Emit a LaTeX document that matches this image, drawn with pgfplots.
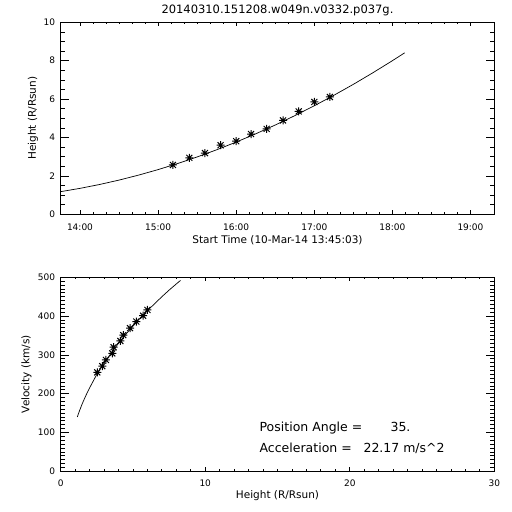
\documentclass[border=0pt]{standalone}
\usepackage{pgfplots}
\pgfplotsset{compat=1.18}
\usepackage{fontspec}
\setmainfont{DejaVu Sans}
\pgfdeclareplotmark{idlstar}{%
  \pgfpathmoveto{\pgfqpoint{-\pgfplotmarksize}{0pt}}\pgfpathlineto{\pgfqpoint{\pgfplotmarksize}{0pt}}%
  \pgfpathmoveto{\pgfqpoint{0pt}{-\pgfplotmarksize}}\pgfpathlineto{\pgfqpoint{0pt}{\pgfplotmarksize}}%
  \pgfpathmoveto{\pgfqpoint{-0.75\pgfplotmarksize}{-0.75\pgfplotmarksize}}\pgfpathlineto{\pgfqpoint{0.75\pgfplotmarksize}{0.75\pgfplotmarksize}}%
  \pgfpathmoveto{\pgfqpoint{-0.75\pgfplotmarksize}{0.75\pgfplotmarksize}}\pgfpathlineto{\pgfqpoint{0.75\pgfplotmarksize}{-0.75\pgfplotmarksize}}%
  \pgfusepathqstroke}
\pgfplotsset{idl/.style={
  scale only axis,
  axis line style={line width=0.9pt},
  tick style={line width=0.8pt, black},
  major tick length=8pt, minor tick length=4pt,
  xtick style={/pgfplots/major tick length=4pt, /pgfplots/minor tick length=2pt},
  tick align=inside,
  /pgf/number format/assume math mode=true,
  tick label style={font=\fontsize{9}{10}\selectfont},
  yticklabel style={xshift=-2pt},
  label style={font=\fontsize{10.5}{12}\selectfont},
}}
\begin{document}
\begin{tikzpicture}
\begin{axis}[idl,
  at={(60.7pt,-214.3pt)}, anchor=south west,
  width=433.6pt, height=192pt,
  xmin=13.753, xmax=19.305, ymin=0, ymax=10,
  xtick={14,15,16,17,18,19},
  xticklabels={14:00,15:00,16:00,17:00,18:00,19:00},
  minor x tick num=5,
  ytick={0,2,4,6,8,10}, minor y tick num=3,
  xticklabel style={yshift=-6pt},
  title={20140310.151208.w049n.v0332.p037g.},
  every axis title/.style={at={(axis description cs:0.5,1.0625)}, anchor=center, font=\fontsize{11.5}{13}\selectfont},
  xlabel={Start Time (10-Mar-14 13:45:03)},
  xlabel style={at={(axis description cs:0.5,-0.1365)}, anchor=center},
  ylabel={Height (R/Rsun)},
  ylabel style={at={(axis description cs:-0.0639,0.5)}, anchor=center},
]
\addplot[black, line width=0.7pt, no marks] coordinates {
(13.753,1.18) (14.0,1.351) (14.25,1.552) (14.5,1.782) (14.75,2.041)
(15.0,2.328) (15.25,2.643) (15.5,2.988) (15.75,3.360) (16.0,3.762)
(16.25,4.192) (16.5,4.650) (16.75,5.137) (17.0,5.653) (17.25,6.197)
(17.5,6.769) (17.75,7.371) (18.0,8.000) (18.157,8.41)};
\addplot[black, only marks, mark=idlstar, mark size=4pt, mark options={line width=1pt}] coordinates {
(15.19,2.57) (15.40,2.94) (15.60,3.19) (15.80,3.60) (16.00,3.81) (16.19,4.18)
(16.39,4.45) (16.60,4.89) (16.80,5.36) (17.00,5.85) (17.20,6.11)};
\end{axis}
\begin{axis}[idl,
  at={(60.7pt,-471.3pt)}, anchor=south west,
  width=433.6pt, height=194pt,
  xmin=0, xmax=30, ymin=0, ymax=500,
  xtick={0,10,20,30}, minor x tick num=9,
  ytick={0,100,200,300,400,500}, minor y tick num=9,
  xticklabel style={yshift=-5pt},
  xlabel={Height (R/Rsun)},
  xlabel style={at={(axis description cs:0.5,-0.1273)}, anchor=center},
  ylabel={Velocity (km/s)},
  ylabel style={at={(axis description cs:-0.0789,0.5)}, anchor=center},
]
\addplot[black, line width=0.7pt, no marks] coordinates {
(1.15,140) (1.3,156) (1.5,175) (1.75,196) (2.0,215) (2.5,250) (3.0,279)
(3.5,305) (4.0,330) (4.5,353) (5.0,374) (5.5,395) (6.0,414) (6.5,432)
(7.0,450) (7.5,467) (8.0,483) (8.29,492)};
\addplot[black, only marks, mark=idlstar, mark size=4pt, mark options={line width=1pt}] coordinates {
(2.53,255) (2.88,271) (3.13,287) (3.57,304) (3.66,320) (4.13,336)
(4.33,351) (4.80,369) (5.23,386) (5.70,401) (6.00,416)};
\node[anchor=base west, font=\fontsize{12.5}{14}\selectfont] at (axis cs:13.52,102) {Position Angle =};
\node[anchor=base west, font=\fontsize{12.5}{14}\selectfont] at (axis cs:22.58,102) {35.};
\node[anchor=base west, font=\fontsize{12.5}{14}\selectfont] at (axis cs:13.52,49.7) {Acceleration =};
\node[anchor=base west, font=\fontsize{12.5}{14}\selectfont] at (axis cs:20.71,49.7) {22.17 m/s\^{}2};
\end{axis}
\pgfresetboundingbox
\useasboundingbox (0pt,0pt) rectangle (512pt,-512pt);
\end{tikzpicture}
\end{document}
